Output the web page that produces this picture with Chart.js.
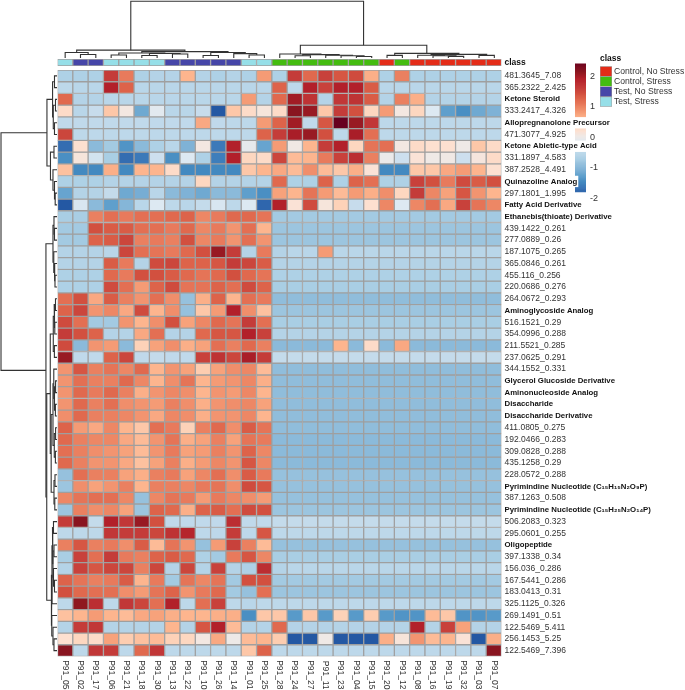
<!DOCTYPE html>
<html>
<head>
<meta charset="utf-8">
<title>Heatmap</title>
<script src="https://cdn.jsdelivr.net/npm/chart.js@4/dist/chart.umd.min.js"></script>
<style>
html, body { margin: 0; padding: 0; background: #fff; width: 685px; height: 690px; overflow: hidden; }
canvas { position: absolute; display: block; }
</style>
</head>
<body>
<canvas id="colDendro" width="502" height="58" style="left:0;top:0"></canvas>
<canvas id="rowDendro" width="57" height="690" style="left:0;top:0"></canvas>
<canvas id="colorBar" width="60" height="180" style="left:560px;top:40px"></canvas>
<canvas id="classLegend" width="85" height="60" style="left:600px;top:54px"></canvas>
<canvas id="classBar" width="560" height="24" style="left:0;top:50px"></canvas>
<canvas id="heat" width="685" height="690" style="left:0;top:0"></canvas>
<script>
const columns = ['P91_05','P91_02','P91_17','P91_06','P91_21','P91_18','P91_30','P91_13','P91_22','P91_10','P91_26','P91_14','P91_01','P91_25','P91_28','P91_24','P91_27','P91_11','P91_23','P91_04','P91_15','P91_20','P91_12','P91_08','P91_16','P91_19','P91_32','P91_03','P91_07'];

// 0 Control No Stress, 1 Control Stress, 2 Test No Stress, 3 Test Stress
const columnClass = [3,2,2,3,3,3,3,2,2,2,2,2,3,3,1,1,1,1,1,1,1,0,1,0,0,0,0,0,0];
const classNames = ['Control, No Stress','Control, Stress','Test, No Stress','Test, Stress'];
const classColors = ['#e42c18','#44bc10','#4646a8','#96dfe8'];

const rowLabels = ['481.3645_7.08','365.2322_2.425','Ketone Steroid','333.2417_4.326','Allopregnanolone Precursor','471.3077_4.925','Ketone Abietic-type Acid','331.1897_4.583','387.2528_4.491','Quinazoline Analog','297.1801_1.995','Fatty Acid Derivative','Ethanebis(thioate) Derivative','439.1422_0.261','277.0889_0.26','187.1075_0.265','365.0846_0.261','455.116_0.256','220.0686_0.276','264.0672_0.293','Aminoglycoside Analog','516.1521_0.29','354.0996_0.288','211.5521_0.285','237.0625_0.291','344.1552_0.331','Glycerol Glucoside Derivative','Aminonucleoside Analog','Disaccharide','Disaccharide Derivative','411.0805_0.275','192.0466_0.283','309.0828_0.288','435.1258_0.29','228.0572_0.288','Pyrimindine Nucleotide (C₁₅H₁₅N₂O₉P)','387.1263_0.508','Pyrimindine Nucleotide (C₁₅H₂₅N₂O₁₄P)','506.2083_0.323','295.0601_0.255','Oligopeptide','397.1338_0.34','156.036_0.286','167.5441_0.286','183.0413_0.31','325.1125_0.326','269.1491_0.51','122.5469_5.411','256.1453_5.25','122.5469_7.396'];

// z-scores, one line per row
const values = [
[-.7,-.7,-.7,1.6,1.05,-.7,-.65,-.65,.6,-.65,-.7,-.65,-.7,.8,-.7,1.6,1.2,1.55,1.35,1.45,.65,-.7,1,-.7,-.7,-.7,-.7,-.7,-.7],
[-.55,-.6,-.6,1.9,1.25,-.6,-.6,-.6,-.6,-.6,-.6,-.6,-.6,-.6,1.25,-.55,1.9,1.55,1.9,1.9,1.3,-.6,-.6,-.6,-.6,-.6,-.6,-.6,-.6],
[1.2,-.65,-.65,-.6,-.6,-.6,-.6,-.6,-.6,-.6,-.6,-.6,.8,-.65,1.2,2,1.7,-.65,1.65,1.7,1.3,-.65,1,.65,-.65,-.65,-.65,-.65,-.65],
[.25,-.6,-.4,.45,.05,-1.2,-.15,-.6,-.6,-.4,-1.9,.45,.25,.1,.25,2.15,2.05,.45,1.6,1.4,.3,.8,.05,.3,-.2,-1.3,-1.45,-1.2,-1.1],
[-.5,-.5,-.5,-.5,-.5,-.5,-.5,-.5,-.5,.7,-.5,-.55,-.55,.8,1.25,2,-.5,1.35,2.45,2.05,1.65,-.55,-.55,-.55,-.55,-.55,-.55,-.55,-.55],
[1.5,-.55,-.55,-.55,-.55,-.55,-.55,-.55,-.55,-.55,-.55,-.55,-.55,1.25,1.6,1.95,2.05,1.4,-.55,1.95,1.15,-.55,-.55,-.55,-.55,-.55,-.55,-.55,-.55],
[-1.75,.2,-1,-.8,-1.4,-1,-.7,-.6,-1.1,.05,-1.65,1.9,-.1,-1.25,.8,.02,.6,1.6,1.9,.3,1.1,1.15,.05,.25,.2,.2,0,.45,.25],
[-1.45,.1,-.3,-.75,-1.75,-1.65,-.35,-1.45,-.2,-.7,-1.6,1.9,.3,.25,1.5,.55,.6,1.05,1.55,1.75,1,-.05,-.35,.15,0,.02,-.35,.08,.25],
[.5,-1.5,-1.5,.65,-1.5,.6,.6,.25,-1.5,-1.5,-1.5,-1.5,.45,.6,.7,.55,.9,.55,.45,.65,.15,-1.5,-1.5,.45,.45,.7,.8,.6,.2],
[-.7,-.7,-.7,-.65,-.65,-.65,-.65,-.65,-.65,.3,-.65,-.65,-.65,-.65,1.2,-.7,-.7,1.25,-.7,1.25,1.15,-.7,-.7,1.55,1.4,1.05,1.45,1.3,1.4],
[-1.25,-.65,-.65,-.45,-1.2,-1.15,-.6,-1,-1.1,-1.2,-1,-1,-1.3,-1.45,.75,.6,1.1,.8,.55,.8,.65,.9,.3,1.6,.95,.75,1.35,.85,.6],
[-1.95,-.25,-1,-1.3,-1.05,-.6,-.2,-.55,-.6,-.45,-.25,-.55,-.2,-1.8,1.9,.15,1.45,.1,.35,-.4,.2,.95,-.2,.95,1.15,.7,1.55,1.1,.95],
[-.75,-.75,1,1.15,1.05,1.15,1.15,1.2,1.25,.95,1.05,1.2,1.2,1.1,-.8,-.8,-.8,-.8,-.8,-.8,-.8,-.8,-.8,-.8,-.8,-.8,-.8,-.8,-.8],
[-.8,-.8,1.4,1.3,1.3,1.15,1.15,1.05,1.2,.95,1.05,.85,1.15,.6,-.85,-.85,-.85,-.85,-.85,-.85,-.85,-.85,-.85,-.85,-.85,-.85,-.85,-.85,-.85],
[-.8,-.8,1.25,1.3,1.5,1,1.05,1,1.4,.95,1.05,.85,1.15,.85,-.85,-.85,-.85,-.85,-.85,-.85,-.85,-.85,-.85,-.85,-.85,-.85,-.85,-.85,-.85],
[-.65,-.65,-.65,-.6,1.5,1.15,1.1,1.05,1.2,1.4,2.05,1.6,-.65,1.05,-.65,-.6,-.6,.8,-.6,-.6,-.6,-.6,-.6,-.6,-.6,-.6,-.6,-.6,-.6],
[-.65,-.65,-.65,1.3,1.05,-.65,1.45,1.5,1.25,1.25,1.35,1.6,1.5,1.3,-.65,-.65,-.65,-.65,-.65,-.65,-.65,-.65,-.65,-.65,-.65,-.65,-.65,-.65,-.65],
[-.7,-.7,-.7,1.2,1.05,1.4,1.4,1.3,1.2,1.1,1.2,1.4,1.2,1.1,-.7,-.7,-.7,-.7,-.7,-.7,-.7,-.7,-.7,-.7,-.7,-.7,-.7,-.7,-.7],
[-.7,-.7,-.7,1.45,1.15,.8,1.25,1.45,1.1,1.1,1.25,1.15,1.45,1.25,-.75,-.75,-.75,-.75,-.75,-.75,-.75,-.75,-.75,-.75,-.75,-.75,-.75,-.75,-.75],
[1.15,1.4,.7,1.3,1,.85,1.15,.9,-.9,.65,1.25,.6,1.15,1.05,-.95,-.95,-.95,-.95,-.95,-.95,-.95,-.95,-.95,-.95,-.95,-.95,-.95,-.95,-.95],
[1.25,1.5,.85,.95,.7,1.45,.6,.9,-.9,.45,.8,1.9,.9,.5,-.85,-.85,-.85,-.85,-.85,-.85,-.85,-.85,-.85,-.85,-.85,-.85,-.85,-.85,-.85],
[1.45,1.15,-.8,-.8,.85,.6,.9,1.4,.75,.95,1.2,1.1,1.6,1.15,-.75,-.75,-.75,-.75,-.75,-.75,-.75,-.75,-.75,-.75,-.75,-.75,-.75,-.75,-.75],
[1.6,1.4,1.25,-.65,-.65,.7,1.15,-.65,-.65,1.2,1.35,1.35,1.9,1.55,-.65,-.65,-.65,-.65,-.65,-.65,-.65,-.65,-.65,-.65,-.65,-.65,-.65,-.65,-.65],
[1.45,-1,.85,.8,-1,.35,.75,.9,.65,.75,1.15,1,1.2,1,-1,-1,-1,-1,.6,-1,.25,-1,.7,-1,-1,-1,-1,-1,-1],
[2.05,-.5,-.5,1.25,1.5,-.5,-.45,-.5,-.5,1.55,1.7,1.5,1.95,1.6,-.45,-.45,-.45,-.45,-.45,-.45,-.45,-.45,-.45,-.45,-.45,-.45,-.45,-.45,-.45],
[.85,1.35,1,1.1,.95,1.2,.6,.85,.75,.4,.75,.9,.95,.55,-.95,-.95,-.95,-.95,-.95,-.95,-.95,-.95,-.95,-.95,-.95,-.95,-.95,-.95,-.95],
[.85,1.15,1,1,1.2,.95,.6,.9,1.1,.6,.8,.85,.95,.65,-.95,-.95,-.95,-.95,-.95,-.95,-.95,-.95,-.95,-.95,-.95,-.95,-.95,-.95,-.95],
[.85,1.2,1.05,1.2,1,.65,.85,.95,.9,.6,.85,.8,.95,.6,-.95,-.95,-.95,-.95,-.95,-.95,-.95,-.95,-.95,-.95,-.95,-.95,-.95,-.95,-.95],
[.85,1.2,1,1.15,.9,.85,.8,1,.9,.65,.85,.9,.95,.75,-.95,-.95,-.95,-.95,-.95,-.95,-.95,-.95,-.95,-.95,-.95,-.95,-.95,-.95,-.95],
[.9,1.2,1,1,.95,.85,.7,.95,.9,.65,.85,.85,.95,.6,-.95,-.95,-.95,-.95,-.95,-.95,-.95,-.95,-.95,-.95,-.95,-.95,-.95,-.95,-.95],
[1.25,.8,.7,.95,.6,.45,1.15,1.05,.35,1,1.2,.9,1.3,1.1,-.95,-.95,-.95,-.95,-.95,-.95,-.95,-.95,-.95,-.95,-.95,-.95,-.95,-.95,-.95],
[1.2,1,.95,.95,.7,.55,.85,1.1,.65,.75,1,.75,1.1,1.05,-1,-1,-1,-1,-1,-1,-1,-1,-1,-1,-1,-1,-1,-1,-1],
[1.15,1,.9,.85,.75,.55,.85,1.05,.75,.8,1,.85,1.25,.95,-1,-1,-1,-1,-1,-1,-1,-1,-1,-1,-1,-1,-1,-1,-1],
[1.2,1,.85,.85,.7,.5,.75,1,.65,.8,.95,.85,1.35,.95,-1,-1,-1,-1,-1,-1,-1,-1,-1,-1,-1,-1,-1,-1,-1],
[-.9,1.15,1,1,.75,.65,1,1.05,.75,.95,1.15,.9,1.3,1.05,-.9,-.9,-.9,-.9,-.9,-.9,-.9,-.9,-.9,-.9,-.9,-.9,-.9,-.9,-.9],
[-.85,.9,.75,.85,1,.6,1,1,.95,1.05,1.1,.9,1.45,1.35,-.9,-.9,-.9,-.9,-.9,-.9,-.9,-.9,-.9,-.9,-.9,-.9,-.9,-.9,-.9],
[.95,1.1,1.15,1.15,.95,-.9,.95,1.1,1.05,.8,1.05,.95,.9,.8,-.9,-.9,-.9,-.9,-.9,-.9,-.9,-.9,-.9,-.9,-.9,-.9,-.9,-.9,-.9],
[-.85,1,.9,.95,.75,-.85,1.25,1.2,.65,1.25,1.3,1.15,1.45,1.4,-.85,-.85,-.85,-.85,-.85,-.85,-.85,-.85,-.85,-.85,-.85,-.85,-.85,-.85,-.85],
[1.6,2.15,-.45,1.9,1.65,2.05,1.4,-.5,-.5,-.5,-.5,1.75,-.5,-.5,-.45,-.45,-.45,-.45,-.45,-.45,-.45,-.45,-.45,-.45,-.45,-.45,-.45,-.45,-.45],
[-.55,-.55,-.55,1.65,1.6,1.6,1.5,1.7,1.85,-.55,-.55,1.6,-.55,1.35,-.55,-.55,-.55,-.55,-.55,-.55,-.55,-.55,-.55,-.55,-.55,-.55,-.55,-.55,-.55],
[1,1.35,1,1.05,.9,1.3,.55,1.1,.85,-.9,.8,1.55,1,.55,-.9,-.9,-.9,-.9,-.9,-.9,-.9,-.9,-.9,-.9,-.9,-.9,-.9,-.9,-.9],
[-.75,1.55,1.15,1.6,1.05,1,1.25,1.3,1.2,-.7,-.8,1.05,1.35,.95,-.75,-.75,-.75,-.75,-.75,-.75,-.75,-.75,-.75,-.75,-.75,-.75,-.75,-.75,-.75],
[-.65,1.55,1.35,1.5,1.5,1,1.5,-.65,1.5,-.65,1.55,-.65,-.7,1.75,-.65,-.6,-.6,-.6,-.6,-.6,-.6,-.6,-.6,-.6,-.6,-.6,-.6,-.6,-.6],
[1.25,1.1,1,1.05,1.3,.6,1.05,-.8,1.1,.95,1.1,-.8,1.4,1.4,-.8,-.8,-.8,-.8,-.8,-.8,-.8,-.8,-.8,-.8,-.8,-.8,-.8,-.8,-.8],
[1.4,1.2,1.15,1.15,.9,.8,1.1,1.25,.85,1.05,1.2,-.8,-.9,1.15,-.85,-.85,-.85,-.85,-.85,-.85,-.85,-.85,-.85,-.85,-.85,-.85,-.85,-.85,-.85],
[-.55,2.1,1.75,-.55,1.65,1.5,1.15,1.9,-.55,1.15,1.55,-.55,-.6,-.55,-.55,-.55,-.55,-.55,-.55,-.55,-.55,-.55,-.55,-.55,-.55,-.55,-.55,-.55,-.55],
[.5,.6,.8,.6,.55,.7,.75,.65,.6,.6,.65,.65,-1.45,.45,.45,-1.35,.45,-1.35,.35,-1.35,.4,-1.35,-1.4,-1.4,.55,.45,-1.4,-1.4,-1.35],
[-.65,1.6,1.65,-.65,-.65,-.65,-.65,.6,-.65,1.35,1.9,.55,-.65,-.65,1.2,-.65,-.65,-.65,-.65,-.65,-.65,-.65,-.65,1.9,-.65,1.55,.75,-.65,-.65],
[.2,.3,.25,.75,.4,.5,.55,.35,.3,.05,.7,-.02,.55,.6,.4,-1.9,-1.9,0,-1.9,-1.9,-1.9,.65,.12,.85,.55,.6,.15,-1.9,.65],
[2.15,-.55,1.65,1.6,-.55,1.2,1.65,-.55,-.55,-.55,-.55,-.55,.45,1.25,-.55,-.55,-.55,-.55,-.55,-.55,-.55,-.55,-.55,-.55,-.55,-.55,-.55,-.55,2.15]
];

// dendrograms as nested [height, left, right], a plain number is a leaf index
const colTree = [56.3,
  [7.8,
    [5.5, 0, [3.5, 1, 2]],
    [6.3,
      [5, [3, 3, 4], [4.5, [2.5, 5, 6], [4, 7, 8]]],
      [5.5, [2.5, 9, 10], [4.3, 11, [3, 12, 13]]]]],
  [12.6,
    [4, 14, [3.3, [2.3, 15, 16], [2.8, 17, [2.3, 18, [1.5, 19, 20]]]]],
    [4.6, [2.6, 21, 22], [3.6, [2.8, 23, [2.2, 24, [1.6, 25, 26]]], [2.6, 27, 28]]]]];

const rowTree = [55.7,
  [10,
    [4.4, [2.5, 0, 1], [3.7, [1.5, 2, 3], [2.5, 4, 5]]],
    [6.5, [3, 6, 7], [4, 8, [2.5, 9, [1.8, 10, 11]]]]],
  [11,
    [4, [3, 12, [2.5, 13, 14]], [3.2, 15, [2.6, 16, [2, 17, 18]]]],
    [10.2,
      [6.7,
        [3.7, [2.8, [1.5, 19, 20], [2.2, 21, 22]], [2.6, 23, 24]],
        [5.8,
          [4, [3.2, 25, [2.5, [1.4, 26, 27], [1.6, 28, 29]]], [2.7, [1.4, 30, 31], [1.6, 32, 33]]],
          [3, [2, 34, 35], [2.2, 36, 37]]]],
      [5.7,
        [5, [4.5, [3.5, 38, 39], [4, [3, 40, 41], [3.5, 42, [2.5, 43, 44]]]], 45],
        [5.2, 46, [4, 47, [3, 48, 49]]]]]]];

const colorTicks = [2, 1, 0, -1, -2];

// colour scale stops, z-score to colour
const scaleValues = [-2, -1.9, -1.7, -1.5, -1.3, -1.1, -.9, -.75, -.6, -.4, -.2, 0, .2, .4, .6, .8, 1, 1.2, 1.4, 1.6, 1.9, 2.1, 2.45];
const scaleColors = ['#2458a3','#2458a3','#3a74b6','#4389c0','#5f9fcc','#7fb2d6','#96c1dd','#a9cee4','#b9d6e9','#c7dcec','#dde9f2','#efe9e6','#fde0d0','#fdcdb0','#fdb58e','#f59b75','#ea8060','#e0694e','#d2503f','#c43c39','#b2202a','#8f1820','#67001f'];

const gridColor = '#9f9f9f';
const textColor = '#333333';
Chart.defaults.font.family = '"Liberation Sans", Arial, sans-serif';
Chart.defaults.animation = false;
Chart.defaults.responsive = false;
Chart.defaults.plugins.legend.display = false;
Chart.defaults.plugins.tooltip.enabled = false;

function hexToRgb(hex) {
    return [1, 3, 5].map(i => parseInt(hex.slice(i, i + 2), 16));
}

function colorFor(v) {
    let i = 0;
    while (i < scaleValues.length - 2 && v > scaleValues[i + 1]) i++;
    const t = Math.min(1, Math.max(0, (v - scaleValues[i]) / (scaleValues[i + 1] - scaleValues[i])));
    const a = hexToRgb(scaleColors[i]);
    const b = hexToRgb(scaleColors[i + 1]);
    const c = a.map((x, k) => Math.round(x + (b[k] - x) * t));
    return `rgb(${c[0]},${c[1]},${c[2]})`;
}

function isBold(label) {
    return !/^\d/.test(label);
}

// walks a tree and gives one 3-sided bracket per merge
function brackets(node, out) {
    if (typeof node === 'number') return { pos: node + 0.5, h: 0 };
    const l = brackets(node[1], out);
    const r = brackets(node[2], out);
    out.push([[l.pos, l.h], [l.pos, node[0]], [r.pos, node[0]], [r.pos, r.h]]);
    return { pos: (l.pos + r.pos) / 2, h: node[0] };
}

function hidden(extra) {
    return Object.assign({ display: false }, extra);
}

function drawColDendro() {
    const segs = [];
    brackets(colTree, segs);
    new Chart(document.getElementById('colDendro'), {
        type: 'scatter',
        data: {
            datasets: segs.map(s => ({
                data: s.map(p => ({ x: p[0], y: p[1] })),
                showLine: true, borderColor: '#333', borderWidth: 1.1, pointRadius: 0, clip: false
            }))
        },
        options: {
            layout: { padding: { left: 57.5 } },
            scales: {
                x: hidden({ type: 'linear', min: 0, max: columns.length }),
                y: hidden({ type: 'linear', min: 0, max: 57.5 })
            }
        }
    });
}

function drawRowDendro() {
    const segs = [];
    brackets(rowTree, segs);
    new Chart(document.getElementById('rowDendro'), {
        type: 'scatter',
        data: {
            datasets: segs.map(s => ({
                data: s.map(p => ({ x: p[1], y: p[0] })),
                showLine: true, borderColor: '#333', borderWidth: 1.1, pointRadius: 0, clip: false
            }))
        },
        options: {
            layout: { padding: { top: 70, bottom: 33.5 } },
            scales: {
                x: hidden({ type: 'linear', min: 0, max: 56.7, reverse: true }),
                y: hidden({ type: 'linear', min: 0, max: rowLabels.length, reverse: true })
            }
        }
    });
}

function drawColorBar() {
    const from = [];
    for (let v = -1.8; v < 2.38; v += 0.04) from.push(v);
    new Chart(document.getElementById('colorBar'), {
        type: 'bar',
        data: {
            labels: ['scale'],
            datasets: from.map(v => ({
                data: [[v, v + 0.05]],
                backgroundColor: colorFor(v + 0.02),
                barPercentage: 1, categoryPercentage: 1
            }))
        },
        options: {
            layout: { padding: { left: 15 } },
            scales: {
                x: { stacked: true, display: false },
                y: {
                    position: 'right', min: -2.412, max: 2.882,
                    grid: { display: false, drawTicks: false }, border: { display: false },
                    afterBuildTicks: s => { s.ticks = colorTicks.map(v => ({ value: v })); },
                    ticks: { color: textColor, padding: 4, font: { size: 9 } },
                    afterFit: s => { s.width = 34; }
                }
            }
        }
    });
}

function drawClassLegend() {
    new Chart(document.getElementById('classLegend'), {
        type: 'bar',
        data: {
            labels: ['swatch'],
            datasets: classNames.map((n, i) => ({
                data: [[i, i + 1]],
                backgroundColor: classColors[i], borderColor: gridColor, borderWidth: 0.8, borderSkipped: false,
                barPercentage: 1, categoryPercentage: 1
            }))
        },
        options: {
            scales: {
                x: { stacked: true, display: false },
                y: hidden({ min: 0, max: classNames.length, reverse: true }),
                names: {
                    type: 'category', axis: 'y', position: 'right', labels: classNames, offset: true,
                    grid: { display: false, drawTicks: false }, border: { display: false },
                    ticks: { autoSkip: false, color: textColor, padding: 2, font: { size: 8.6 } },
                    afterFit: s => { s.width = 73; }
                }
            },
            plugins: {
                title: {
                    display: true, text: 'class', align: 'start', color: '#111',
                    font: { size: 8.5, weight: 'bold' }, padding: { top: 0, bottom: 2 }
                }
            }
        }
    });
}

function drawClassBar() {
    new Chart(document.getElementById('classBar'), {
        type: 'bar',
        data: {
            labels: columns,
            datasets: [{
                data: columns.map(() => [0, 1]),
                backgroundColor: columnClass.map(c => classColors[c]),
                borderColor: gridColor, borderWidth: 0.95, borderSkipped: false, inflateAmount: 0.3,
                barPercentage: 1, categoryPercentage: 1
            }]
        },
        options: {
            layout: { padding: { left: 57.5, top: 9, bottom: 7 } },
            scales: {
                x: { display: false },
                y: hidden({ min: 0, max: 1 }),
                name: {
                    type: 'category', axis: 'y', position: 'right', labels: ['class'], offset: true,
                    grid: { display: false, drawTicks: false }, border: { display: false },
                    ticks: { color: '#111', padding: 3, font: { size: 8.5, weight: 'bold' } },
                    afterFit: s => { s.width = 58.5; }
                }
            }
        }
    });
}

function drawHeat() {
    new Chart(document.getElementById('heat'), {
        type: 'bar',
        data: {
            labels: columns,
            datasets: values.map((row, r) => ({
                data: row.map(() => [r, r + 1]),
                backgroundColor: row.map(colorFor),
                borderColor: gridColor, borderWidth: 0.95, borderSkipped: false, inflateAmount: 0.3,
                barPercentage: 1, categoryPercentage: 1
            }))
        },
        options: {
            layout: { padding: { left: 57.5, top: 70 } },
            scales: {
                x: {
                    stacked: true, position: 'bottom',
                    grid: { display: false, drawTicks: false }, border: { display: false },
                    ticks: { autoSkip: false, minRotation: -90, maxRotation: -90, padding: 33, color: textColor, font: { size: 8.5 } },
                    afterFit: s => { s.height = 33.5; }
                },
                y: hidden({ min: 0, max: rowLabels.length, reverse: true }),
                rows: {
                    type: 'category', axis: 'y', position: 'right', labels: rowLabels, offset: true,
                    grid: { display: false, drawTicks: false }, border: { display: false },
                    ticks: {
                        autoSkip: false, padding: 3,
                        color: c => isBold(rowLabels[c.index]) ? '#111' : textColor,
                        font: c => isBold(rowLabels[c.index]) ? { size: 7.8, weight: 'bold' } : { size: 8.5 },
                        showLabelBackdrop: c => isBold(rowLabels[c.index]),
                        backdropColor: '#fff',
                        backdropPadding: { top: 1, bottom: 1, left: 1, right: 1 }
                    },
                    afterFit: s => { s.width = 183.5; }
                }
            }
        }
    });
}

drawColDendro();
drawRowDendro();
drawColorBar();
drawClassLegend();
drawClassBar();
drawHeat();
</script>
</body>
</html>
